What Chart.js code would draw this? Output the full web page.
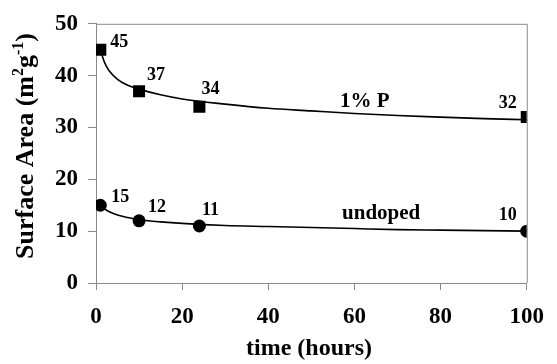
<!DOCTYPE html>
<html>
<head>
<meta charset="utf-8">
<script src="https://cdn.jsdelivr.net/npm/chart.js@4.4.1/dist/chart.umd.min.js"></script>
<style>
  html, body { margin: 0; padding: 0; background: #fff; }
  #wrap { width: 557px; height: 364px; position: relative; }
</style>
</head>
<body>
<div id="wrap"><canvas id="chart"></canvas></div>
<script>
// Measured points (time in hours, surface area in m2/g)
const times = [1, 10, 24, 100];
const dopedValues = [45, 37, 34, 32];
const undopedValues = [15, 12, 11, 10];

// Fitted trend curves
const fitTimes = [1, 2, 3, 5, 7, 10, 15, 20, 30, 40, 50, 60, 70, 80, 90, 100];
const dopedFit = [45, 42.5, 41, 39.3, 38.3, 37.4, 36.3, 35.5, 34.5, 33.7, 33.2, 32.7, 32.3, 32.0, 31.7, 31.5];
const undopedFit = [15.2, 14.3, 13.8, 13.1, 12.7, 12.2, 11.8, 11.5, 11.1, 10.9, 10.7, 10.5, 10.3, 10.2, 10.1, 10.0];

const xTicks = [0, 20, 40, 60, 80, 100];
const yTicks = [0, 10, 20, 30, 40, 50];

const SERIF = "'Liberation Serif', 'Times New Roman', serif";
const AXIS_GRAY = "#8a8a8a";

const pts = (xs, ys) => xs.map((x, i) => ({ x, y: ys[i] }));

// value labels: pixel offsets from each marker
const labelOffsets = {
  doped: [[19, -7], [17, -16], [11, -17], [-19, -14]],
  undoped: [[20, -8], [18, -13], [11, -16], [-19, -16]],
};

const annotations = {
  id: "annotations",
  afterDatasetsDraw(chart) {
    const { ctx, chartArea: a, scales: { x, y } } = chart;
    ctx.save();
    // frame
    ctx.strokeStyle = AXIS_GRAY;
    ctx.lineWidth = 1;
    ctx.beginPath();
    ctx.moveTo(a.left, a.top + 0.5);
    ctx.lineTo(a.right + 0.5, a.top + 0.5);
    ctx.lineTo(a.right + 0.5, a.bottom);
    ctx.stroke();

    ctx.fillStyle = "#000";
    ctx.textAlign = "center";
    ctx.textBaseline = "middle";
    ctx.font = "bold 18px " + SERIF;
    times.forEach((t, i) => {
      const [dx, dy] = labelOffsets.doped[i];
      ctx.fillText(String(dopedValues[i]), x.getPixelForValue(t) + dx, y.getPixelForValue(dopedValues[i]) + dy);
      const [ux, uy] = labelOffsets.undoped[i];
      ctx.fillText(String(undopedValues[i]), x.getPixelForValue(t) + ux, y.getPixelForValue(undopedValues[i]) + uy);
    });

    ctx.font = "bold 21px " + SERIF;
    ctx.fillText("1% P", x.getPixelForValue(62.4), y.getPixelForValue(35));
    ctx.fillText("undoped", x.getPixelForValue(66.2), y.getPixelForValue(13.3));

    // x axis title
    ctx.font = "bold 24px " + SERIF;
    ctx.fillText("time (hours)", 309, 349);

    // y axis title with superscripts
    const parts = [
      ["Surface Area (m", false], ["2", true], ["g", false], ["-1", true], [")", false],
    ];
    const big = "bold 26px " + SERIF, small = "bold 16px " + SERIF;
    let total = 0;
    for (const [s, sup] of parts) { ctx.font = sup ? small : big; total += ctx.measureText(s).width; }
    ctx.translate(24, 146);
    ctx.rotate(-Math.PI / 2);
    ctx.textAlign = "left";
    ctx.textBaseline = "alphabetic";
    let cx = -total / 2;
    for (const [s, sup] of parts) {
      ctx.font = sup ? small : big;
      ctx.fillText(s, cx, sup ? -1 : 9);
      cx += ctx.measureText(s).width;
    }
    ctx.restore();
  },
};

new Chart(document.getElementById("chart"), {
  type: "scatter",
  data: {
    datasets: [
      { data: pts(fitTimes, dopedFit), showLine: true, borderColor: "#000", borderWidth: 1.6,
        pointRadius: 0, cubicInterpolationMode: "monotone", order: 3 },
      { data: pts(fitTimes, undopedFit), showLine: true, borderColor: "#000", borderWidth: 1.6,
        pointRadius: 0, cubicInterpolationMode: "monotone", order: 3 },
      { data: pts(times, dopedValues), pointStyle: "rect", pointRadius: 8.5,
        backgroundColor: "#000", borderColor: "#000", borderWidth: 0, order: 1 },
      { data: pts(times, undopedValues), pointStyle: "circle", pointRadius: 6.5,
        backgroundColor: "#000", borderColor: "#000", borderWidth: 0, order: 1 },
    ],
  },
  options: {
    responsive: true, maintainAspectRatio: false, animation: false,
    layout: { padding: { left: 0, right: 20, top: 18, bottom: 0 } },
    plugins: { legend: { display: false }, tooltip: { enabled: false } },
    scales: {
      x: {
        type: "linear", min: 0, max: 100,
        afterBuildTicks: (s) => { s.ticks = xTicks.map((v) => ({ value: v })); },
        afterFit: (s) => { s.height = 81; },
        grid: { drawOnChartArea: false, tickLength: 7, color: AXIS_GRAY },
        border: { color: AXIS_GRAY },
        ticks: { color: "#000", font: { family: SERIF, size: 23, weight: "bold" }, padding: 13, maxRotation: 0 },
      },
      y: {
        type: "linear", min: 0, max: 50,
        afterBuildTicks: (s) => { s.ticks = yTicks.map((v) => ({ value: v })); },
        afterFit: (s) => { s.width = 96; },
        grid: { drawOnChartArea: false, tickLength: 8, color: AXIS_GRAY },
        border: { color: AXIS_GRAY },
        ticks: { color: "#000", font: { family: SERIF, size: 23, weight: "bold" }, padding: 10 },
      },
    },
  },
  plugins: [annotations],
});
</script>
</body>
</html>
